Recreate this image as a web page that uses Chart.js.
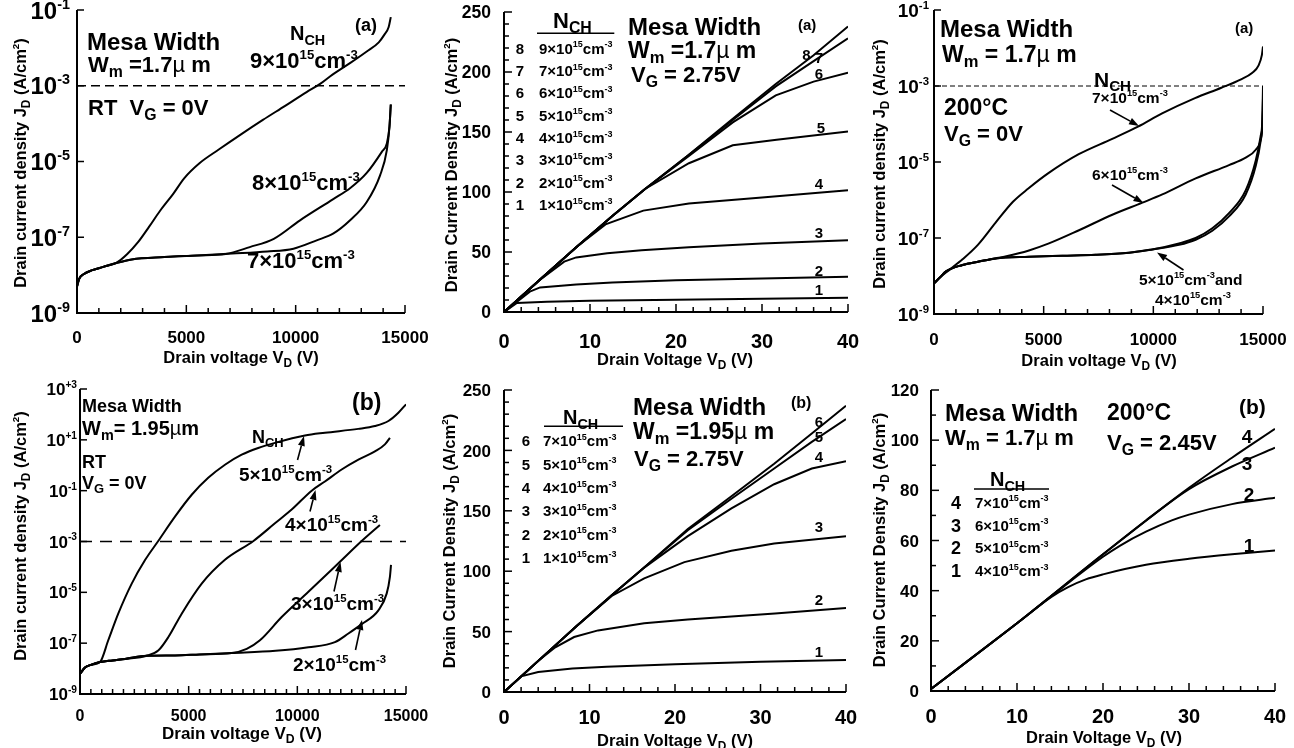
<!DOCTYPE html>
<html>
<head>
<meta charset="utf-8">
<title>Mesa width / channel doping</title>
<script src="https://cdn.jsdelivr.net/npm/chart.js@4.4.1/dist/chart.umd.min.js"></script>
<style>
  html, body { margin: 0; padding: 0; background: #fff; }
  #wrap { position: relative; width: 1294px; height: 748px; overflow: hidden; background: #fff; }
  #wrap canvas { position: absolute; }
</style>
</head>
<body>
<div id="wrap"></div>
<script>
const FONT = '"Liberation Sans", Arial, Helvetica, sans-serif';

// ---------- tick values ----------
const kvTicks = [0, 5000, 10000, 15000];
const vdTicks = [0, 10, 20, 30, 40];
const jdTicks250 = [0, 50, 100, 150, 200, 250];
const jdTicks120 = [0, 20, 40, 60, 80, 100, 120];
const logTicks8 = [1e-9, 1e-7, 1e-5, 1e-3, 1e-1];
const logLabels8 = ['-9', '-7', '-5', '-3', '-1'];
const logTicks12 = [1e-9, 1e-7, 1e-5, 1e-3, 1e-1, 1e1, 1e3];
const logLabels12 = ['-9', '-7', '-5', '-3', '-1', '+1', '+3'];

// 1e-3 A/cm2 leakage criterion (dashed line)
const limitV = [0, 15000];
const limitJ = [1e-3, 1e-3];

// ---------- (a) RT, Wm = 1.7 um, VG = 0 V ----------
const rtA_V9 = [0, 100, 300, 700, 1200, 1800, 2300, 2800, 3300, 3800, 4400, 4900, 5600, 6500, 7500, 8500, 9500, 10500, 11100, 11700, 12500, 13250, 13800, 14050, 14250, 14350];
const rtA_J9 = [5e-9, 8e-9, 1.05e-8, 1.35e-8, 1.65e-8, 2.1e-8, 3.6e-8, 7.5e-8, 1.9e-7, 5e-7, 1.4e-6, 3.6e-6, 9e-6, 2.1e-5, 5.2e-5, 1.25e-4, 2.9e-4, 6.8e-4, 1.1e-3, 2e-3, 4e-3, 8e-3, 1.4e-2, 2.2e-2, 3.5e-2, 6.5e-2];
const rtA_V8 = [0, 100, 300, 700, 1200, 1800, 2500, 4000, 5500, 6800, 7900, 9000, 10200, 11700, 12500, 13250, 13940, 14170, 14290, 14350];
const rtA_J8 = [5e-9, 8e-9, 1.05e-8, 1.35e-8, 1.65e-8, 2.1e-8, 2.6e-8, 3e-8, 3.3e-8, 3.6e-8, 5.5e-8, 9.1e-8, 2.8e-7, 1e-6, 2e-6, 5e-6, 1.8e-5, 3e-5, 8.3e-5, 3.2e-4];
const rtA_V7 = [0, 100, 300, 700, 1200, 1800, 2500, 4000, 5500, 7100, 8700, 9900, 10960, 11730, 12490, 13250, 13860, 14170, 14290, 14350];
const rtA_J7 = [5e-9, 8e-9, 1.05e-8, 1.35e-8, 1.65e-8, 2.1e-8, 2.6e-8, 3e-8, 3.3e-8, 3.7e-8, 4.2e-8, 5e-8, 8.3e-8, 1.26e-7, 2.8e-7, 8.5e-7, 4.3e-6, 2e-5, 8.3e-5, 3.2e-4];

// ---------- (a) on-state, Wm = 1.7 um, VG = 2.75 V ----------
const onA_V1 = [0, 1.5, 5, 10, 20, 30, 40];
const onA_J1 = [0, 7.5, 8.5, 9.3, 10.3, 11.1, 11.8];
const onA_V2 = [0, 3, 4.2, 8.4, 12.6, 20, 30, 40];
const onA_J2 = [0, 17, 20.5, 23, 24.5, 26.5, 28, 29.3];
const onA_V3 = [0, 4.2, 7, 8.4, 12, 16, 21.5, 30, 40];
const onA_J3 = [0, 27, 42, 45.5, 49, 51.5, 54, 57, 59.7];
const onA_V4 = [0, 4.2, 8.4, 11.8, 16.2, 21.5, 30, 40];
const onA_J4 = [0, 27, 54, 73, 84.5, 90.5, 95.5, 101.5];
const onA_V5 = [0, 4.2, 8.4, 12.6, 16.4, 21.5, 26.6, 31.7, 40];
const onA_J5 = [0, 27, 54, 80, 102.5, 124, 139, 143.5, 150.5];
const onA_V6 = [0, 4.2, 8.4, 12.6, 16.4, 21.5, 26.6, 31.6, 36, 40];
const onA_J6 = [0, 27, 54, 80, 102.5, 130, 158, 180.5, 192, 199.5];
const onA_J7 = [0, 27, 54, 80, 102.5, 131, 160, 188, 209, 228];
const onA_J8 = [0, 27, 54, 80, 102.5, 131, 161, 190, 214, 238];
const onA_keys = ['8', '7', '6', '5', '4', '3', '2', '1'];
const onA_nch = ['9×10^{15}cm^{-3}', '7×10^{15}cm^{-3}', '6×10^{15}cm^{-3}', '5×10^{15}cm^{-3}',
                 '4×10^{15}cm^{-3}', '3×10^{15}cm^{-3}', '2×10^{15}cm^{-3}', '1×10^{15}cm^{-3}'];

// ---------- (a) 200C, Wm = 1.7 um, VG = 0 V ----------
const hotA_V7 = [0, 300, 700, 1300, 2000, 2800, 3600, 4300, 5200, 6600, 8100, 9300, 10400, 11900, 13100, 14000, 14500, 14800, 14950, 15000];
const hotA_J7 = [6.4e-9, 9.5e-9, 1.45e-8, 2.75e-8, 6.6e-8, 2.5e-7, 9e-7, 2e-6, 5e-6, 1.6e-5, 4e-5, 8.5e-5, 1.9e-4, 4.8e-4, 9e-4, 1.5e-3, 2.2e-3, 3.5e-3, 6.6e-3, 1.1e-2];
const hotA_V6 = [0, 300, 530, 1300, 2050, 2800, 3300, 4330, 5240, 6610, 8130, 9500, 10410, 11930, 13450, 14210, 14670, 14890, 14970, 15000];
const hotA_J6 = [6.4e-9, 9.5e-9, 1.3e-8, 1.95e-8, 2.4e-8, 2.9e-8, 3.3e-8, 4.7e-8, 7.2e-8, 1.6e-7, 4.1e-7, 8.5e-7, 1.4e-6, 3.7e-6, 8.3e-6, 1.3e-5, 2.1e-5, 3.8e-5, 8.5e-5, 2.3e-4];
const hotA_V5 = [0, 300, 530, 1300, 2050, 2800, 4330, 5850, 7370, 8890, 9950, 11170, 11930, 12690, 13450, 14210, 14670, 14890, 14970, 15000];
const hotA_J5 = [6.4e-9, 9.5e-9, 1.3e-8, 1.95e-8, 2.4e-8, 2.9e-8, 3.2e-8, 3.4e-8, 3.6e-8, 4.1e-8, 5e-8, 7.2e-8, 1e-7, 1.8e-7, 4.5e-7, 1.8e-6, 1.1e-5, 4.7e-5, 1.3e-4, 1e-3];
const hotA_J4 = [6.4e-9, 9.5e-9, 1.3e-8, 1.95e-8, 2.4e-8, 2.9e-8, 3.2e-8, 3.4e-8, 3.6e-8, 4.1e-8, 5e-8, 6.6e-8, 9e-8, 1.55e-7, 3.7e-7, 1.4e-6, 8e-6, 3.5e-5, 1e-4, 5e-4];

// ---------- (b) RT, Wm = 1.95 um, VG = 0 V ----------
const rtB_V5 = [0, 230, 500, 920, 1300, 1760, 2380, 3000, 3600, 4370, 5140, 5900, 6670, 7440, 8200, 8970, 10350, 11270, 12800, 13570, 14190, 14650, 15000];
const rtB_J5 = [6.2e-9, 1.1e-8, 1.4e-8, 1.8e-8, 1.3e-7, 1.45e-6, 2.2e-5, 1.9e-4, 1.05e-3, 9.5e-3, 6.9e-2, 0.32, 1.05, 2.6, 4.8, 7.6, 14.8, 19, 27, 35, 55, 117, 250];
const rtB_V4 = [0, 230, 500, 920, 1500, 2070, 3070, 3600, 4060, 4680, 5600, 6670, 7980, 8970, 9740, 10660, 11270, 12040, 12810, 13570, 14030, 14260];
const rtB_J4 = [6.2e-9, 1.1e-8, 1.4e-8, 1.8e-8, 2.1e-8, 2.4e-8, 3.2e-8, 5.1e-8, 1.7e-7, 1.45e-6, 2.2e-5, 1.9e-4, 1.05e-3, 5.2e-3, 1.8e-2, 0.1, 0.23, 0.68, 1.66, 3.5, 6.6, 12];
const rtB_V3 = [0, 230, 500, 920, 1500, 2070, 3070, 4370, 5500, 6980, 7670, 8280, 9280, 10510, 11890, 12960, 13800];
const rtB_J3 = [6.2e-9, 1.1e-8, 1.4e-8, 1.8e-8, 2.1e-8, 2.4e-8, 3.2e-8, 3.3e-8, 3.6e-8, 4.1e-8, 6e-8, 1.3e-7, 1.07e-6, 1.05e-5, 1.4e-4, 1.05e-3, 4.5e-3];
const rtB_V2 = [0, 230, 500, 920, 1500, 2070, 3070, 4370, 5500, 6980, 9000, 10510, 11730, 12350, 12960, 13730, 14110, 14260, 14310];
const rtB_J2 = [6.2e-9, 1.1e-8, 1.4e-8, 1.8e-8, 2.1e-8, 2.4e-8, 3.2e-8, 3.3e-8, 3.6e-8, 4.1e-8, 5e-8, 6.9e-8, 1.1e-7, 2.4e-7, 5.6e-7, 1.95e-6, 8.9e-6, 4.1e-5, 1.2e-4];

// ---------- (b) on-state, Wm = 1.95 um, VG = 2.75 V ----------
const onB_V1 = [0, 2, 4, 8, 12, 20, 30, 40];
const onB_J1 = [0, 13, 16.5, 19.5, 21, 23, 25, 26.5];
const onB_V2 = [0, 4.2, 6, 8.2, 11, 16.4, 21.5, 26.6, 31.7, 40];
const onB_J2 = [0, 27, 37, 45.5, 51, 57, 60, 62.5, 65, 69.5];
const onB_V3 = [0, 4.2, 8.4, 12.6, 16.4, 21.1, 26.6, 31.6, 40];
const onB_J3 = [0, 27, 54, 79.5, 94, 107.5, 117, 123, 129];
const onB_V4 = [0, 4.2, 8.4, 12.6, 16.4, 21.5, 26.6, 31.6, 36, 40];
const onB_J4 = [0, 27, 54, 80, 103, 129, 152, 172, 185, 191];
const onB_J5 = [0, 27, 54, 80, 103, 134, 160, 185, 207, 226];
const onB_J6 = [0, 27, 54, 80, 103, 135, 162, 189, 214, 237];
const onB_keys = ['6', '5', '4', '3', '2', '1'];
const onB_nch = ['7×10^{15}cm^{-3}', '5×10^{15}cm^{-3}', '4×10^{15}cm^{-3}',
                 '3×10^{15}cm^{-3}', '2×10^{15}cm^{-3}', '1×10^{15}cm^{-3}'];

// ---------- (b) 200C, Wm = 1.7 um, VG = 2.45 V ----------
const hotB_V4 = [0, 10, 20, 30, 35, 40];
const hotB_J4 = [0.8, 27, 54.5, 81, 93, 104.5];
const hotB_V3 = [0, 10, 20, 25, 30, 35, 40];
const hotB_J3 = [0.8, 27, 54.5, 68, 80.5, 89.5, 97];
const hotB_V2 = [0, 10, 15, 20, 22, 25, 28, 30, 35, 40];
const hotB_J2 = [0.8, 27, 40.5, 53.5, 58, 63.5, 68, 70.3, 74.5, 77];
const hotB_V1 = [0, 10, 14, 16, 18, 20, 25, 30, 35, 40];
const hotB_J1 = [0.8, 27, 37.5, 41.5, 44.5, 46.5, 50.3, 52.7, 54.5, 56];
const hotB_keys = ['4', '3', '2', '1'];
const hotB_nch = ['7×10^{15}cm^{-3}', '6×10^{15}cm^{-3}', '5×10^{15}cm^{-3}', '4×10^{15}cm^{-3}'];

// ---------- panel layout (page pixels) ----------
const panels = [
  { id: 'rtA', ox: 0, oy: 0, w: 431, area: [77, 10, 405, 313],
    xMin: 0, xMax: 15000, xTicks: kvTicks, xMinor: 1000, xFont: 17, xDy: 24,
    xTitle: 'Drain voltage V_{D} (V)', xTitleX: 241, xTitleDy: 44, xTitleFont: 16.5,
    yType: 'logarithmic', yMin: 1e-9, yMax: 1e-1, yTicks: logTicks8, yExp: logLabels8, yFont: 24, yGap: 7,
    yTitle: 'Drain current density J_{D} (A/cm^{2})', yTitleX: 20, yTitleY: 163,
    smooth: true, dash: [9, 5], dashW: 1.3,
    series: [[rtA_V9, rtA_J9], [rtA_V8, rtA_J8], [rtA_V7, rtA_J7]],
    notes: [['Mesa Width', 87, 41, 24], ['W_{m} =1.7~{µ} m', 88, 64, 22], ['RT  V_{G} = 0V', 88, 107, 22],
            ['N_{CH}', 290, 33, 20], ['9×10^{15}cm^{-3}', 250, 60, 22], ['8×10^{15}cm^{-3}', 252, 182, 22],
            ['7×10^{15}cm^{-3}', 247, 260, 22], ['(a)', 355, 25, 18]] },

  { id: 'onA', ox: 431, oy: 0, w: 431, area: [504, 12, 848, 312],
    xMin: 0, xMax: 40, xTicks: vdTicks, xMinor: 2, xFont: 20, xDy: 28.5,
    xTitle: 'Drain Voltage V_{D} (V)', xTitleX: 675, xTitleDy: 47, xTitleFont: 16.5,
    yType: 'linear', yMin: 0, yMax: 250, yTicks: jdTicks250, yMinor: 10, yFont: 17.5, yGap: 13,
    yTitle: 'Drain Current Density J_{D} (A/cm^{2})', yTitleX: 451, yTitleY: 165,
    smooth: false,
    series: [[onA_V1, onA_J1], [onA_V2, onA_J2], [onA_V3, onA_J3], [onA_V4, onA_J4], [onA_V5, onA_J5],
             [onA_V6, onA_J6], [onA_V6, onA_J7], [onA_V6, onA_J8]],
    rows: { keys: onA_keys, labels: onA_nch, keyX: 520, textX: 539, y0: 48.3, dy: 22.3, keyFont: 15, textFont: 15 },
    rules: [[537, 33.3, 614.3]],
    notes: [['Mesa Width', 628, 26, 24], ['W_{m} =1.7~{µ} m', 628, 50, 23], ['V_{G} = 2.75V', 631, 74, 22],
            ['(a)', 798, 25, 15], ['N_{CH}', 553, 20, 22],
            ['1', 819, 290, 15, 'center'], ['2', 819, 270.5, 15, 'center'], ['3', 819, 233, 15, 'center'],
            ['4', 819, 184, 15, 'center'], ['5', 821, 128, 15, 'center'], ['6', 819, 74, 15, 'center'],
            ['7', 819, 57.5, 15, 'center'], ['8', 806.5, 54.5, 15, 'center']] },

  { id: 'hotA', ox: 862, oy: 0, w: 432, area: [934, 10, 1263, 314],
    xMin: 0, xMax: 15000, xTicks: kvTicks, xMinor: 1000, xFont: 17, xDy: 25,
    xTitle: 'Drain voltage V_{D} (V)', xTitleX: 1099, xTitleDy: 46, xTitleFont: 16.5,
    yType: 'logarithmic', yMin: 1e-9, yMax: 1e-1, yTicks: logTicks8, yExp: logLabels8, yFont: 19, yGap: 5,
    yTitle: 'Drain current density J_{D} (A/cm^{2})', yTitleX: 879, yTitleY: 164,
    smooth: true, dash: [5, 3], dashW: 1,
    series: [[hotA_V7, hotA_J7], [hotA_V6, hotA_J6], [hotA_V5, hotA_J5], [hotA_V5, hotA_J4]],
    arrows: [[1110, 110, 1139, 126], [1112, 185, 1143.5, 203], [1183.5, 270, 1157, 252.5]],
    notes: [['Mesa Width', 940, 28, 24], ['W_{m} = 1.7~{µ} m', 942, 54, 23], ['200°C', 944, 107, 23],
            ['V_{G} = 0V', 944, 133, 22], ['(a)', 1235, 28, 15], ['N_{CH}', 1094, 79, 21],
            ['7×10^{15}cm^{-3}', 1092, 97, 15.5], ['6×10^{15}cm^{-3}', 1092, 174, 15.5],
            ['5×10^{15}cm^{-3}and', 1139, 279, 15.5], ['4×10^{15}cm^{-3}', 1155, 299, 15.5]] },

  { id: 'rtB', ox: 0, oy: 374, w: 431, area: [80, 389, 406, 694],
    xMin: 0, xMax: 15000, xTicks: kvTicks, xMinor: 500, xFont: 16, xDy: 21,
    xTitle: 'Drain voltage V_{D} (V)', xTitleX: 242, xTitleDy: 39, xTitleFont: 17,
    yType: 'logarithmic', yMin: 1e-9, yMax: 1e3, yTicks: logTicks12, yExp: logLabels12, yFont: 17, yGap: 3,
    yTitle: 'Drain current density J_{D} (A/cm^{2})', yTitleX: 20, yTitleY: 536,
    smooth: true, dash: [12, 8], dashW: 1.5,
    series: [[rtB_V5, rtB_J5], [rtB_V4, rtB_J4], [rtB_V3, rtB_J3], [rtB_V2, rtB_J2]],
    arrows: [[297.5, 460, 304, 436], [310, 511.5, 315.5, 490], [334, 591.5, 340.5, 562], [355.5, 650, 362, 620]],
    notes: [['Mesa Width', 82, 406, 18], ['W_{m}= 1.95~{µ}m', 82, 428, 20], ['RT', 82, 462, 18],
            ['V_{G} = 0V', 82, 483, 18], ['(b)', 352, 402, 23], ['N_{CH}', 252, 437, 18],
            ['5×10^{15}cm^{-3}', 239, 474, 19], ['4×10^{15}cm^{-3}', 285, 524, 19],
            ['3×10^{15}cm^{-3}', 291, 603, 19], ['2×10^{15}cm^{-3}', 293, 664, 19]] },

  { id: 'onB', ox: 431, oy: 374, w: 431, area: [504, 390, 846, 692],
    xMin: 0, xMax: 40, xTicks: vdTicks, xMinor: 2, xFont: 20, xDy: 25,
    xTitle: 'Drain Voltage V_{D} (V)', xTitleX: 675, xTitleDy: 48, xTitleFont: 16.5,
    yType: 'linear', yMin: 0, yMax: 250, yTicks: jdTicks250, yMinor: 10, yFont: 17, yGap: 13,
    yTitle: 'Drain Current Density J_{D} (A/cm^{2})', yTitleX: 449, yTitleY: 541,
    smooth: false,
    series: [[onB_V1, onB_J1], [onB_V2, onB_J2], [onB_V3, onB_J3], [onB_V4, onB_J4],
             [onB_V4, onB_J5], [onB_V4, onB_J6]],
    rows: { keys: onB_keys, labels: onB_nch, keyX: 526, textX: 543, y0: 440.7, dy: 23.4, keyFont: 15, textFont: 15 },
    rules: [[544, 426.3, 623]],
    notes: [['Mesa Width', 633, 406, 24], ['W_{m} =1.95~{µ} m', 633, 431, 23], ['V_{G} = 2.75V', 634, 458, 22],
            ['(b)', 791, 402, 16], ['N_{CH}', 563, 417, 20],
            ['1', 819, 652, 15, 'center'], ['2', 819, 600, 15, 'center'], ['3', 819, 527, 15, 'center'],
            ['4', 819, 457, 15, 'center'], ['5', 819, 437, 15, 'center'], ['6', 819, 422, 15, 'center']] },

  { id: 'hotB', ox: 862, oy: 374, w: 432, area: [931, 390, 1275, 691],
    xMin: 0, xMax: 40, xTicks: vdTicks, xMinor: 2, xFont: 20, xDy: 25,
    xTitle: 'Drain Voltage V_{D} (V)', xTitleX: 1104, xTitleDy: 46, xTitleFont: 16.5,
    yType: 'linear', yMin: 0, yMax: 120, yTicks: jdTicks120, yMinor: 10, yFont: 17, yGap: 12,
    yTitle: 'Drain Current Density J_{D} (A/cm^{2})', yTitleX: 879, yTitleY: 540,
    smooth: true,
    series: [[hotB_V4, hotB_J4], [hotB_V3, hotB_J3], [hotB_V2, hotB_J2], [hotB_V1, hotB_J1]],
    rows: { keys: hotB_keys, labels: hotB_nch, keyX: 956, textX: 975, y0: 502.3, dy: 22.8, keyFont: 18, textFont: 15 },
    rules: [[974, 489, 1049]],
    notes: [['Mesa Width', 945, 412, 24], ['W_{m} = 1.7~{µ} m', 945, 437, 22], ['200°C', 1107, 412, 23],
            ['V_{G} = 2.45V', 1107, 442, 22], ['(b)', 1239, 406, 21], ['N_{CH}', 990, 479, 20],
            ['4', 1247, 436, 19, 'center'], ['3', 1247, 463, 19, 'center'],
            ['2', 1249, 494, 19, 'center'], ['1', 1249, 545, 19, 'center']] }
];

// ---------- helpers ----------
function pts(v, j) { return v.map((x, i) => ({ x: x, y: j[i] })); }

// text with _{sub}, ^{sup} and ~{light} parts; y is the middle of the capitals
function rich(ctx, str, x, y, size, align) {
  const segs = [];
  str.replace(/([_^~])\{([^}]*)\}|([^_^~]+)/g, (m, k, inner, plain) => {
    segs.push(plain !== undefined ? { t: plain, k: '' } : { t: inner, k: k });
    return m;
  });
  let total = 0;
  segs.forEach(s => {
    s.size = s.k === '_' ? size * 0.72 : s.k === '^' ? size * 0.6 : size;
    s.dy = s.k === '_' ? size * 0.22 : s.k === '^' ? -size * 0.42 : 0;
    s.font = (s.k === '~' ? 'normal ' : 'bold ') + s.size + 'px ' + FONT;
    ctx.font = s.font;
    s.w = ctx.measureText(s.t).width;
    total += s.w;
  });
  let cx = align === 'center' ? x - total / 2 : align === 'right' ? x - total : x;
  const base = y + size * 0.36;
  ctx.textAlign = 'left';
  ctx.textBaseline = 'alphabetic';
  segs.forEach(s => {
    ctx.font = s.font;
    ctx.fillText(s.t, cx, base + s.dy);
    cx += s.w;
  });
}

function seg(ctx, x1, y1, x2, y2) {
  ctx.beginPath(); ctx.moveTo(x1, y1); ctx.lineTo(x2, y2); ctx.stroke();
}

function arrow(ctx, x1, y1, x2, y2) {
  const a = Math.atan2(y2 - y1, x2 - x1), L = 10, W = 3.5;
  const bx = x2 - L * Math.cos(a), by = y2 - L * Math.sin(a);
  ctx.lineWidth = 1.6;
  seg(ctx, x1, y1, bx, by);
  ctx.beginPath();
  ctx.moveTo(x2, y2);
  ctx.lineTo(bx + W * Math.sin(a), by - W * Math.cos(a));
  ctx.lineTo(bx - W * Math.sin(a), by + W * Math.cos(a));
  ctx.closePath();
  ctx.fill();
}

// axes, inward ticks, labels and notes
const frame = {
  id: 'frame',
  afterDraw(chart) {
    const p = chart.$panel;
    const ctx = chart.ctx, xs = chart.scales.x, ys = chart.scales.y, a = chart.chartArea;
    const ox = p.ox, oy = p.oy;
    ctx.save();
    ctx.strokeStyle = '#000';
    ctx.fillStyle = '#000';

    // minor + major ticks
    ctx.lineWidth = 1.5;
    for (let v = p.xMin; v <= p.xMax; v += p.xMinor) {
      const px = xs.getPixelForValue(v);
      seg(ctx, px, a.bottom, px, a.bottom - (p.xTicks.includes(v) ? 8 : 5));
    }
    if (p.yType === 'linear') {
      for (let v = p.yMin; v <= p.yMax; v += p.yMinor) {
        const py = ys.getPixelForValue(v);
        seg(ctx, a.left, py, a.left + (p.yTicks.includes(v) ? 8 : 5), py);
      }
    } else {
      p.yTicks.forEach(v => {
        const py = ys.getPixelForValue(v);
        seg(ctx, a.left, py, a.left + 7, py);
      });
    }

    // axis lines (left + bottom only)
    ctx.lineWidth = 2;
    ctx.beginPath();
    ctx.moveTo(a.left, a.top);
    ctx.lineTo(a.left, a.bottom);
    ctx.lineTo(a.right, a.bottom);
    ctx.stroke();

    // tick labels
    p.xTicks.forEach(v => rich(ctx, String(v), xs.getPixelForValue(v), a.bottom + p.xDy, p.xFont, 'center'));
    p.yTicks.forEach((v, i) => {
      const txt = p.yType === 'linear' ? String(v) : '10^{' + p.yExp[i] + '}';
      rich(ctx, txt, a.left - p.yGap, ys.getPixelForValue(v), p.yFont, 'right');
    });

    // axis titles
    rich(ctx, p.xTitle, p.xTitleX - ox, a.bottom + p.xTitleDy, p.xTitleFont, 'center');
    ctx.save();
    ctx.translate(p.yTitleX - ox, p.yTitleY - oy);
    ctx.rotate(-Math.PI / 2);
    rich(ctx, p.yTitle, 0, 0, 16.5, 'center');
    ctx.restore();

    // legend table
    if (p.rows) {
      const r = p.rows;
      r.keys.forEach((k, i) => {
        const y = r.y0 + i * r.dy - oy;
        rich(ctx, k, r.keyX - ox, y, r.keyFont, 'center');
        rich(ctx, r.labels[i], r.textX - ox, y, r.textFont, 'left');
      });
    }
    ctx.lineWidth = 1.5;
    (p.rules || []).forEach(l => seg(ctx, l[0] - ox, l[1] - oy, l[2] - ox, l[1] - oy));

    (p.notes || []).forEach(n => rich(ctx, n[0], n[1] - ox, n[2] - oy, n[3], n[4] || 'left'));
    (p.arrows || []).forEach(ar => arrow(ctx, ar[0] - ox, ar[1] - oy, ar[2] - ox, ar[3] - oy));
    ctx.restore();
  }
};

// ---------- build charts ----------
const wrap = document.getElementById('wrap');
panels.forEach(p => {
  const cv = document.createElement('canvas');
  cv.id = p.id;
  cv.width = p.w; cv.height = 374;
  cv.style.left = p.ox + 'px'; cv.style.top = p.oy + 'px';
  cv.style.width = p.w + 'px'; cv.style.height = '374px';
  wrap.appendChild(cv);

  const datasets = p.series.map(s => ({
    data: pts(s[0], s[1]),
    borderColor: '#000', borderWidth: 2, pointRadius: 0, fill: false,
    tension: 0, cubicInterpolationMode: p.smooth ? 'monotone' : 'default'
  }));
  if (p.dash) {
    datasets.push({
      data: pts(limitV, limitJ),
      borderColor: '#000', borderWidth: p.dashW, borderDash: p.dash, pointRadius: 0, fill: false
    });
  }

  const a = p.area;
  new Chart(cv.getContext('2d'), {
    type: 'line',
    data: { datasets: datasets },
    options: {
      responsive: false, animation: false, devicePixelRatio: 1, events: [],
      layout: { padding: { top: a[1] - p.oy, right: p.ox + p.w - a[2], left: 0, bottom: 0 } },
      plugins: { legend: { display: false }, tooltip: { enabled: false } },
      scales: {
        x: { type: 'linear', min: p.xMin, max: p.xMax,
             ticks: { display: false }, grid: { display: false }, border: { display: false },
             afterFit: s => { s.height = p.oy + 374 - a[3]; } },
        y: { type: p.yType, min: p.yMin, max: p.yMax,
             ticks: { display: false }, grid: { display: false }, border: { display: false },
             afterFit: s => { s.width = a[0] - p.ox; } }
      }
    },
    plugins: [{ id: 'bind', beforeInit: c => { c.$panel = p; } }, frame]
  });
});
</script>
</body>
</html>
